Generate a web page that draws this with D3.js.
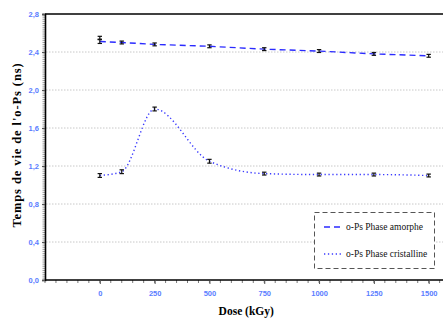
<!DOCTYPE html>
<html><head><meta charset="utf-8">
<script src="https://cdn.jsdelivr.net/npm/d3@7"></script>
<style>body{margin:0;background:#fff;}svg{display:block;}</style>
</head><body><svg id="c" width="443" height="325"></svg>
<script>
const doses = [0, 100, 250, 500, 750, 1000, 1250, 1500];
const amorphe = [2.51, 2.50, 2.48, 2.46, 2.43, 2.41, 2.38, 2.36];
const amorpheExtra = [{dose: 0, v: 2.55}];
const cristalline = [1.10, 1.14, 1.80, 1.25, 1.12, 1.11, 1.11, 1.10];
const errAmorphe = [0.02, 0.015, 0.015, 0.015, 0.015, 0.015, 0.015, 0.015];
const errCristalline = [0.02, 0.02, 0.02, 0.02, 0.015, 0.015, 0.015, 0.015];
const yTicks = [0, 0.4, 0.8, 1.2, 1.6, 2.0, 2.4, 2.8];
const xTicks = [0, 250, 500, 750, 1000, 1250, 1500];
const legendLabels = ["o-Ps Phase amorphe", "o-Ps Phase cristalline"];

const svg = d3.select("#c");
const x = d3.scaleLinear().domain([-250, 1750]).range([45, 483.5]);
const y = d3.scaleLinear().domain([0, 2.8]).range([280, 14]);
const fmt = v => d3.format(".1f")(v).replace(".", ",");

// grid
svg.append("g").selectAll("line").data(yTicks.filter(d => d > 0 && d < 2.8)).join("line")
  .attr("x1", 46).attr("x2", 443).attr("y1", d => y(d)).attr("y2", d => y(d))
  .attr("stroke", "#c8c8c8").attr("stroke-width", 1).attr("stroke-dasharray", "1.5,1.5");

// top border
svg.append("line").attr("x1", 45).attr("x2", 443).attr("y1", y(2.8)).attr("y2", y(2.8))
  .attr("stroke", "#000").attr("stroke-width", 1.6);

// y axis minor ticks
const yMinor = d3.range(0, 2.8001, 0.02);
svg.append("g").selectAll("line").data(yMinor).join("line")
  .attr("x1", 42.5).attr("x2", 45).attr("y1", d => y(d)).attr("y2", d => y(d))
  .attr("stroke", "#777").attr("stroke-width", 0.7);
const yAxis = d3.axisLeft(y).tickValues(yTicks).tickFormat(fmt).tickSize(3).tickPadding(3);
const gy = svg.append("g").attr("transform", "translate(45,0)").call(yAxis);
gy.select(".domain").attr("stroke", "#000").attr("stroke-width", 1.6);
gy.selectAll(".tick line").attr("stroke", "#555");
gy.selectAll("text").attr("fill", "#5a7dff").attr("font-family", "Liberation Sans, Arial, sans-serif")
  .attr("font-size", 7.5).attr("font-weight", "bold");

// x axis
const xMinor = d3.range(-250, 1751, 50);
svg.append("g").selectAll("line").data(xMinor).join("line")
  .attr("x1", d => x(d)).attr("x2", d => x(d)).attr("y1", 280).attr("y2", 283)
  .attr("stroke", "#555").attr("stroke-width", 0.8);
const xAxis = d3.axisBottom(x).tickValues(xTicks).tickFormat(d3.format("d")).tickSize(4).tickPadding(7);
const gx = svg.append("g").attr("transform", "translate(0,280)").call(xAxis);
gx.select(".domain").attr("stroke", "#000").attr("stroke-width", 1.6).attr("d", "M45,0H443");
gx.selectAll(".tick line").attr("stroke", "#555");
gx.selectAll("text").attr("fill", "#5a7dff").attr("font-family", "Liberation Sans, Arial, sans-serif")
  .attr("font-size", 7.5).attr("font-weight", "bold");

// lines
const lineA = d3.line().x((d, i) => x(doses[i])).y(d => y(d));
svg.append("path").attr("d", lineA(amorphe)).attr("fill", "none")
  .attr("stroke", "#2b2bff").attr("stroke-width", 1.4).attr("stroke-dasharray", "6,4");
const lineC = d3.line().x((d, i) => x(doses[i])).y(d => y(d)).curve(d3.curveMonotoneX);
svg.append("path").attr("d", lineC(cristalline)).attr("fill", "none")
  .attr("stroke", "#3a3aff").attr("stroke-width", 1.4).attr("stroke-dasharray", "1.3,2.6");

// error bars
function errbars(vals, errs) {
  const g = svg.append("g").attr("stroke", "#111").attr("stroke-width", 1.2);
  vals.forEach((v, i) => {
    const cx = x(doses[i]), e = errs[i];
    g.append("line").attr("x1", cx).attr("x2", cx).attr("y1", y(v + e)).attr("y2", y(v - e));
    g.append("line").attr("x1", cx - 2.2).attr("x2", cx + 2.2).attr("y1", y(v + e)).attr("y2", y(v + e));
    g.append("line").attr("x1", cx - 2.2).attr("x2", cx + 2.2).attr("y1", y(v - e)).attr("y2", y(v - e));
  });
}
errbars(amorphe, errAmorphe);
errbars(cristalline, errCristalline);
errbars(amorpheExtra.map(d => d.v), [0.015]);

// axis titles
svg.append("text").attr("x", x(750) - 18).attr("y", 315).attr("text-anchor", "middle")
  .attr("font-family", "Liberation Serif, Times New Roman, serif").attr("font-weight", "bold")
  .attr("font-size", 11.5).text("Dose (kGy)");
svg.append("text").attr("transform", "translate(21,145) rotate(-90)").attr("text-anchor", "middle")
  .attr("font-family", "Liberation Serif, Times New Roman, serif").attr("font-weight", "bold")
  .attr("font-size", 12.5).attr("letter-spacing", 0.9).text("Temps de vie de l'o-Ps (ns)");

// legend
const lg = svg.append("g");
lg.append("rect").attr("x", 314.5).attr("y", 212.5).attr("width", 120).attr("height", 56)
  .attr("fill", "#fff").attr("stroke", "#555").attr("stroke-width", 1).attr("stroke-dasharray", "5,3");
const dashes = ["6,4", "1.3,2.6"];
legendLabels.forEach((t, i) => {
  const yy = 227 + i * 27;
  lg.append("line").attr("x1", 324).attr("x2", 342).attr("y1", yy).attr("y2", yy)
    .attr("stroke", i ? "#3a3aff" : "#2b2bff").attr("stroke-width", 1.4).attr("stroke-dasharray", dashes[i]);
  lg.append("text").attr("x", 346).attr("y", yy + 3.2)
    .attr("font-family", "Liberation Serif, Times New Roman, serif").attr("font-size", 9.5).attr("fill", "#111").text(t);
});
</script></body></html>
